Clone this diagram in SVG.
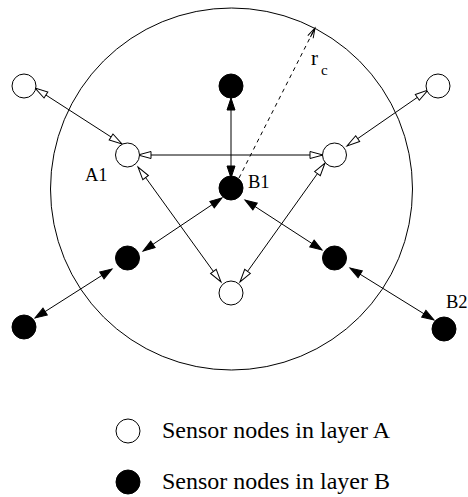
<svg xmlns="http://www.w3.org/2000/svg" width="468" height="497" viewBox="0 0 468 497">
<style>
.a{fill:#fff;stroke:#000;stroke-width:1}
.b{fill:#000;stroke:#000;stroke-width:1}
.l{stroke:#000;stroke-width:1;fill:none}
.t{font-family:"Liberation Serif","Times New Roman",serif;fill:#000}
</style>
<defs>
<marker id="mo" markerUnits="userSpaceOnUse" markerWidth="20" markerHeight="20" refX="13" refY="0" viewBox="-2 -10 20 20" orient="auto-start-reverse" overflow="visible">
<path d="M0,-3.5 L13,0 L0,3.5 Z" fill="#fff" stroke="#000" stroke-width="1"/>
</marker>
<marker id="mf" markerUnits="userSpaceOnUse" markerWidth="20" markerHeight="20" refX="12" refY="0" viewBox="-2 -10 20 20" orient="auto-start-reverse" overflow="visible">
<path d="M0,-4 L12,0 L0,4 Z" fill="#000" stroke="#000" stroke-width="1"/>
</marker>
<marker id="mv" markerUnits="userSpaceOnUse" markerWidth="20" markerHeight="20" refX="10" refY="0" viewBox="-2 -10 20 20" orient="auto" overflow="visible">
<path d="M0,-3 L10,0 L0,3 M0,0 L10,0" fill="none" stroke="#000" stroke-width="1"/>
</marker>
</defs>
<rect width="468" height="497" fill="#fff"/>
<g id="range">
<circle cx="231.5" cy="189" r="181" class="l"/>
</g>
<g id="connectors">
<line x1="35" y1="88" x2="122" y2="144" class="l" marker-start="url(#mo)" marker-end="url(#mo)"/>
<line x1="138" y1="155" x2="323" y2="155" class="l" marker-start="url(#mo)" marker-end="url(#mo)"/>
<line x1="347" y1="146" x2="428" y2="90" class="l" marker-start="url(#mo)" marker-end="url(#mo)"/>
<line x1="138" y1="167" x2="221" y2="282" class="l" marker-start="url(#mo)" marker-end="url(#mo)"/>
<line x1="325" y1="163" x2="240" y2="282" class="l" marker-start="url(#mo)" marker-end="url(#mo)"/>
<line x1="231" y1="98" x2="231" y2="178" class="l" marker-start="url(#mf)" marker-end="url(#mf)"/>
<line x1="222" y1="198" x2="143" y2="251" class="l" marker-start="url(#mf)" marker-end="url(#mf)"/>
<line x1="112" y1="269" x2="35" y2="318" class="l" marker-start="url(#mf)" marker-end="url(#mf)"/>
<line x1="245" y1="200" x2="322" y2="250" class="l" marker-start="url(#mf)" marker-end="url(#mf)"/>
<line x1="350" y1="268" x2="434" y2="320" class="l" marker-start="url(#mf)" marker-end="url(#mf)"/>
<line x1="239" y1="178" x2="315" y2="28" class="l" stroke-dasharray="4,4" marker-end="url(#mv)"/>
</g>
<g id="nodeA0"><circle cx="24" cy="86" r="12" class="a"/></g>
<g id="nodeA1"><circle cx="127.5" cy="155" r="12" class="a"/><text x="85" y="181" class="t" font-size="18.5">A1</text></g>
<g id="nodeA2"><circle cx="334.5" cy="155" r="12" class="a"/></g>
<g id="nodeA3"><circle cx="438" cy="86" r="12" class="a"/></g>
<g id="nodeA4"><circle cx="231" cy="293" r="12" class="a"/></g>
<g id="nodeB0"><circle cx="231" cy="86" r="12" class="b"/></g>
<g id="nodeB1"><circle cx="231" cy="188" r="12" class="b"/><text x="248" y="188" class="t" font-size="18.5">B1</text></g>
<g id="nodeB3"><circle cx="127.5" cy="258" r="12" class="b"/></g>
<g id="nodeB4"><circle cx="24" cy="327" r="12" class="b"/></g>
<g id="nodeB5"><circle cx="334.5" cy="258" r="12" class="b"/></g>
<g id="nodeB2"><circle cx="444" cy="329" r="12" class="b"/><text x="446" y="308" class="t" font-size="18.5">B2</text></g>
<g id="rc"><text x="311" y="65" class="t" font-size="21">r</text><text x="321" y="75" class="t" font-size="15">c</text></g>
<g id="legend">
<circle cx="128" cy="431" r="12" class="a"/>
<text x="162" y="438" class="t" font-size="24">Sensor nodes in layer A</text>
<circle cx="128" cy="482" r="12" class="b"/>
<text x="162" y="489" class="t" font-size="24">Sensor nodes in layer B</text>
</g>
</svg>
